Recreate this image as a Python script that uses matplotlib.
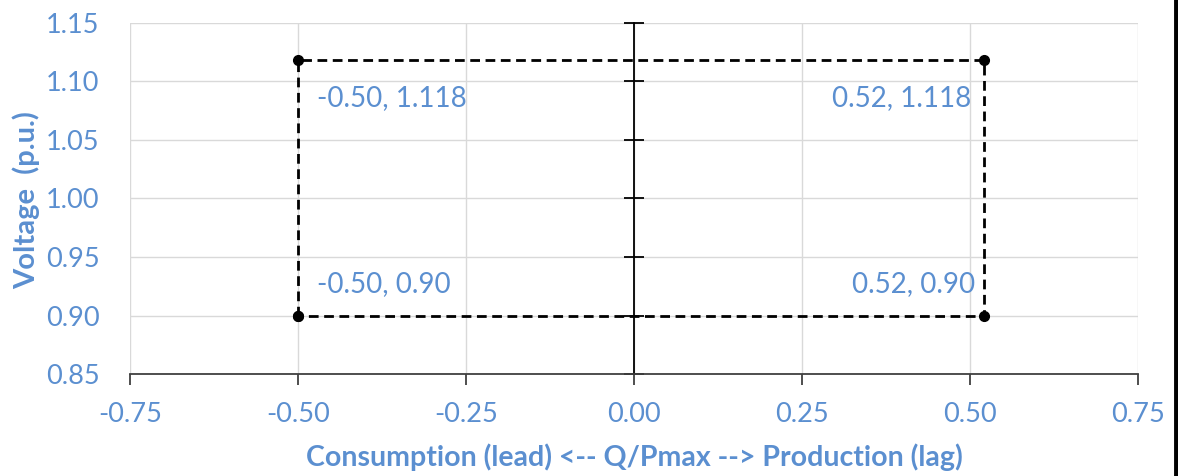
import matplotlib.pyplot as plt
from matplotlib.lines import Line2D

# corner points of the operating envelope (closed path)
q_pmax = [-0.50, -0.50, 0.52, 0.52, -0.50]
voltage = [0.90, 1.118, 1.118, 0.90, 0.90]
corner_labels = ["-0.50, 0.90", "-0.50, 1.118", "0.52, 1.118", "0.52, 0.90"]

x_ticks = [-0.75, -0.50, -0.25, 0.00, 0.25, 0.50, 0.75]
y_ticks = [0.85, 0.90, 0.95, 1.00, 1.05, 1.10, 1.15]

blue = "#5B8FD0"
plt.rcParams["font.family"] = ["Lato", "DejaVu Sans"]

fig = plt.figure(figsize=(11.78, 4.76), dpi=100)
ax = fig.add_axes([0.1104, 0.214, 0.8557, 0.738])

ax.set_xlim(-0.75, 0.75)
ax.set_ylim(0.85, 1.15)
ax.set_xticks(x_ticks)
ax.set_yticks(y_ticks)
ax.set_xticklabels([f"{v:.2f}" for v in x_ticks])
ax.grid(True, color="#d9d9d9", lw=1)
ax.set_axisbelow(True)

for s in ["top", "right"]:
    ax.spines[s].set_visible(False)
ax.spines["bottom"].set_color("#404040")
ax.spines["bottom"].set_linewidth(1.3)

# vertical axis crosses at x = 0 with cross ticks
ax.spines["left"].set_position(("data", 0))
ax.spines["left"].set_color("black")
ax.spines["left"].set_linewidth(1.3)
ax.tick_params(axis="y", direction="inout", length=14, width=1.3, labelleft=False)
ax.tick_params(axis="x", direction="out", length=8, width=1.3, color="#404040",
               labelsize=19.5, labelcolor=blue, pad=12)

# value labels stay on the left edge
sec = ax.secondary_yaxis("left")
sec.spines["left"].set_visible(False)
sec.set_yticks(y_ticks)
sec.set_yticklabels([f"{v:.2f}" for v in y_ticks])
sec.tick_params(length=0, labelsize=19.5, labelcolor=blue, pad=22)

ax.plot(q_pmax, voltage, color="black", lw=2, ls=(0, (3.5, 2)),
        marker="o", ms=7, zorder=5, clip_on=False)

offsets = [(13.5, 23, "left"), (13.5, -27, "left"), (-9, -27, "right"), (-6, 23, "right")]
for x, y, txt, (dx, dy, ha) in zip(q_pmax[:4], voltage[:4], corner_labels, offsets):
    ax.annotate(txt, (x, y), xytext=(dx, dy), textcoords="offset points",
                ha=ha, va="center", fontsize=20, color=blue)

ax.set_xlabel("Consumption (lead) <-- Q/Pmax --> Production (lag)",
              fontsize=20.5, fontweight="bold", color=blue, labelpad=12)
fig.text(0.022, 0.58, "Voltage  (p.u.)", rotation=90, ha="center", va="center",
         fontsize=21, fontweight="bold", color=blue)

# black border on the right edge
fig.add_artist(Line2D([0.9985, 0.9985], [0, 1], color="black", lw=3.5,
                      transform=fig.transFigure))

fig.savefig("out.png", dpi=100)
